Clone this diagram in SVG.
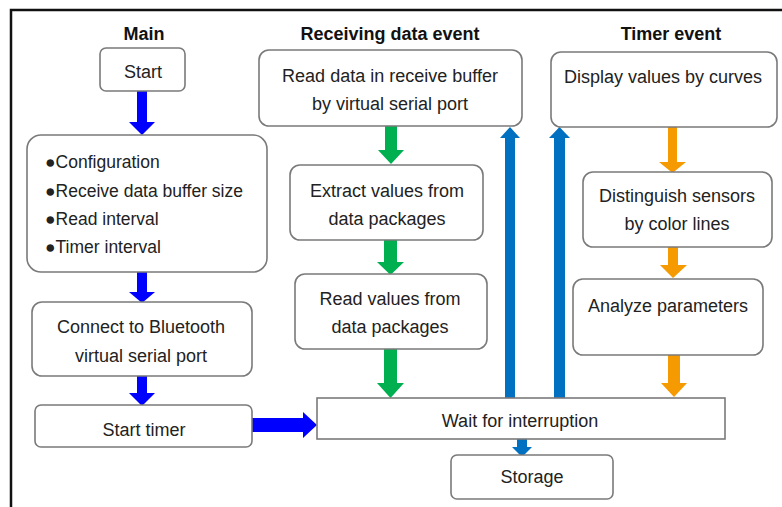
<svg xmlns="http://www.w3.org/2000/svg" width="782" height="507" viewBox="0 0 782 507">
<style>
.box{fill:#fff;stroke:#7a7a7a;stroke-width:1.6}
.t{font-family:"Liberation Sans",Arial,sans-serif;font-size:18px;fill:#222;text-anchor:middle}
.b{font-weight:bold;fill:#111}
.l{text-anchor:start;font-size:17.5px}
.blue{fill:#0000ff}
.lblue{fill:#0070c0}
.green{fill:#00b050}
.orange{fill:#f59a00}
</style>
<rect x="0" y="0" width="782" height="507" fill="#fff"/>
<path d="M11,507 V10 H782" fill="none" stroke="#111" stroke-width="2.5"/>
<g id="headers">
<text class="t b" x="144" y="40">Main</text>
<text class="t b" x="390" y="40">Receiving data event</text>
<text class="t b" x="671" y="40">Timer event</text>
</g>
<g id="connectors">
<polygon class="blue" points="137,91 147,91 147,122 155,122 142,135 129,122 137,122"/>
<polygon class="blue" points="137,272 147,272 147,292 155,292 142,303 129,292 137,292"/>
<polygon class="blue" points="137,376 147,376 147,393 155,393 142,406 129,393 137,393"/>
<polygon class="blue" points="252,418 303,418 303,412 317,425 303,438 303,432 252,432"/>
<polygon class="green" points="385,126 397,126 397,150 404,150 391,164 378,150 385,150"/>
<polygon class="green" points="384,240 397,240 397,262 404,262 390.5,275 377,262 384,262"/>
<polygon class="green" points="384,349 397,349 397,383 404,383 390.5,398 377,383 384,383"/>
<polygon class="lblue" points="505,398 515,398 515,138 520,138 510,127 500,138 505,138"/>
<polygon class="lblue" points="554,398 565,398 565,138 570,138 559.5,127 549,138 554,138"/>
<polygon class="lblue" points="517,439 527,439 527,447 532,447 522,457 512,447 517,447"/>
<polygon class="orange" points="668,127 677,127 677,162 686,162 672.5,173 659,162 668,162"/>
<polygon class="orange" points="668,247 678,247 678,265 687,265 673,278 660,265 668,265"/>
<polygon class="orange" points="668,355 680,355 680,383 687,383 674,397 661,383 668,383"/>
</g>
<g id="start"><rect class="box" x="100" y="48" width="85" height="43" rx="6"/><text class="t" x="143" y="78">Start</text></g>
<g id="config"><rect class="box" x="27" y="135" width="240" height="137" rx="14"/>
<text class="t l" x="45" y="168">●Configuration</text>
<text class="t l" x="45" y="197">●Receive data buffer size</text>
<text class="t l" x="45" y="225">●Read interval</text>
<text class="t l" x="45" y="253">●Timer interval</text></g>
<g id="connect"><rect class="box" x="32" y="302" width="220" height="74" rx="10"/><text class="t" x="141" y="333">Connect to Bluetooth</text><text class="t" x="141" y="362">virtual serial port</text></g>
<g id="starttimer"><rect class="box" x="35" y="405" width="217" height="42" rx="6"/><text class="t" x="144" y="436">Start timer</text></g>
<g id="readdata"><rect class="box" x="259" y="50" width="263" height="76" rx="10"/><text class="t" x="390" y="82">Read data in receive buffer</text><text class="t" x="390" y="110">by virtual serial port</text></g>
<g id="extract"><rect class="box" x="290" y="165" width="193" height="75" rx="10"/><text class="t" x="387" y="197">Extract values from</text><text class="t" x="387" y="225">data packages</text></g>
<g id="readvalues"><rect class="box" x="295" y="274" width="192" height="75" rx="10"/><text class="t" x="390" y="305">Read values from</text><text class="t" x="390" y="333">data packages</text></g>
<g id="wait"><rect class="box" x="317" y="398" width="408" height="41"/><text class="t" x="520" y="427">Wait for interruption</text></g>
<g id="storage"><rect class="box" x="451" y="455" width="162" height="44" rx="6"/><text class="t" x="532" y="483">Storage</text></g>
<g id="display"><rect class="box" x="551" y="52" width="226" height="75" rx="10"/><text class="t" x="663" y="83">Display values by curves</text></g>
<g id="distinguish"><rect class="box" x="583" y="172" width="189" height="75" rx="10"/><text class="t" x="677" y="202">Distinguish sensors</text><text class="t" x="677" y="230">by color lines</text></g>
<g id="analyze"><rect class="box" x="573" y="279" width="190" height="76" rx="10"/><text class="t" x="668" y="312">Analyze parameters</text></g>
</svg>
